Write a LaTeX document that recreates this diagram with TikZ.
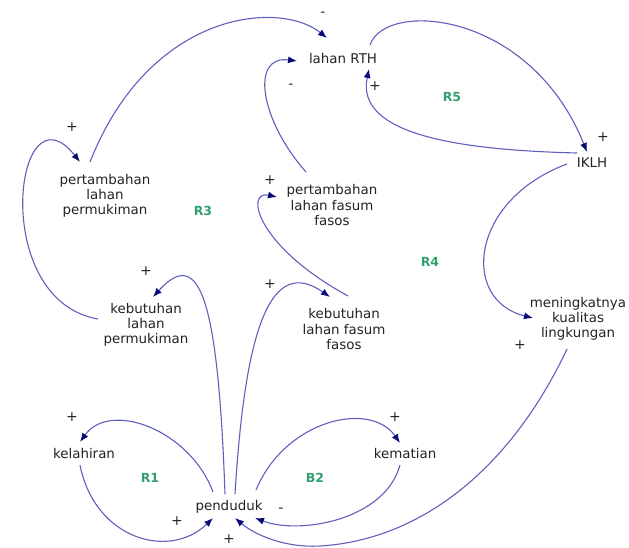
\documentclass[tikz,border=0pt]{standalone}
\usepackage{fontspec}
\setmainfont{DejaVu Sans}
\usetikzlibrary{arrows.meta}
\definecolor{linec}{RGB}{95,95,190}
\definecolor{tipc}{RGB}{10,10,120}
\definecolor{loopc}{RGB}{50,160,110}
\definecolor{txtc}{RGB}{35,35,35}
\begin{document}
\begin{tikzpicture}[x=1pt,y=-1pt,
  var/.style={align=center,inner sep=1pt,text=txtc,font=\fontsize{13.4}{15.2}\selectfont},
  sgn/.style={inner sep=0pt,text=txtc,font=\fontsize{14}{15}\selectfont},
  loopl/.style={inner sep=0pt,text=loopc,font=\fontsize{12.5}{14}\selectfont\bfseries},
  link/.style={draw=linec,line width=1.1pt,-{Latex[length=9pt,width=7pt,color=tipc]}}]
\useasboundingbox (0,0) rectangle (629,547);
% variables
\node[var] (rth) at (343,58) {lahan RTH};
\node[var] (iklh) at (592,163) {IKLH};
\node[var] (ppk) at (105,196) {pertambahan\\lahan\\permukiman};
\node[var] (pfs) at (332,205) {pertambahan\\lahan fasum\\fasos};
\node[var] (kpk) at (146,325) {kebutuhan\\lahan\\permukiman};
\node[var] (kfs) at (344,329) {kebutuhan\\lahan fasum\\fasos};
\node[var] (mkl) at (578,319) {meningkatnya\\kualitas\\lingkungan};
\node[var] (kel) at (84,453) {kelahiran};
\node[var] (pen) at (229,507) {penduduk};
\node[var] (kem) at (405,453) {kematian};
% loop labels
\node[loopl] (r5) at (452,97) {R5};
\node[loopl] (r3) at (203,211) {R3};
\node[loopl] (r4) at (430,262) {R4};
\node[loopl] (r1) at (150,478) {R1};
\node[loopl] (b2) at (315,478) {B2};
% polarity signs
\node[sgn] (s1) at (323,14) {-};
\node[sgn] (s2) at (72,127) {+};
\node[sgn] (s3) at (291,86) {-};
\node[sgn] (s4) at (375,86) {+};
\node[sgn] (s5) at (603,137) {+};
\node[sgn] (s6) at (270,180) {+};
\node[sgn] (s7) at (146,271) {+};
\node[sgn] (s8) at (270,284) {+};
\node[sgn] (s9) at (520,345) {+};
\node[sgn] (s10) at (72,417) {+};
\node[sgn] (s11) at (395,417) {+};
\node[sgn] (s12) at (177,521) {+};
\node[sgn] (s13) at (281,510) {-};
\node[sgn] (s14) at (229,539) {+};
% links
\draw[link] ([shift={(-15,-34)}]ppk.center) .. controls (150,10) and (280,0) .. ([shift={(-16,-20)}]rth.center);
\draw[link] ([shift={(-48,-6)}]kpk.center) .. controls (-12,300) and (15,80) .. ([shift={(-25,-34)}]ppk.center);
\draw[link] ([shift={(-4,-13)}]pen.center) .. controls (218,300) and (200,245) .. ([shift={(7,-28)}]kpk.center);
\draw[link] ([shift={(6,-13)}]pen.center) .. controls (245,330) and (270,255) .. ([shift={(-14,-32)}]kfs.center);
\draw[link] ([shift={(4,-33)}]kfs.center) .. controls (255,245) and (245,190) .. ([shift={(-55,-8)}]pfs.center);
\draw[link] ([shift={(-26,-33)}]pfs.center) .. controls (260,120) and (250,55) .. ([shift={(-46,3)}]rth.center);
\draw[link] ([shift={(27,-13)}]rth.center) .. controls (385,0) and (530,10) .. ([shift={(-5,-11)}]iklh.center);
\draw[link] ([shift={(-15,-10)}]iklh.center) .. controls (460,150) and (355,135) .. ([shift={(26,11)}]rth.center);
\draw[link] ([shift={(-25,1)}]iklh.center) .. controls (470,200) and (460,300) .. ([shift={(-45,-1)}]mkl.center);
\draw[link] ([shift={(-11,30)}]mkl.center) .. controls (510,470) and (420,540) .. (320,546) .. controls (285,548) and (255,535) .. ([shift={(6,11)}]pen.center);
\draw[link] ([shift={(-16,-15)}]pen.center) .. controls (190,430) and (110,400) .. ([shift={(-4,-11)}]kel.center);
\draw[link] ([shift={(-4,12)}]kel.center) .. controls (95,540) and (170,560) .. ([shift={(-16,11)}]pen.center);
\draw[link] ([shift={(27,-17)}]pen.center) .. controls (285,420) and (370,400) .. ([shift={(-5,-10)}]kem.center);
\draw[link] ([shift={(-5,12)}]kem.center) .. controls (385,520) and (300,535) .. ([shift={(26,11)}]pen.center);
\end{tikzpicture}
\end{document}
